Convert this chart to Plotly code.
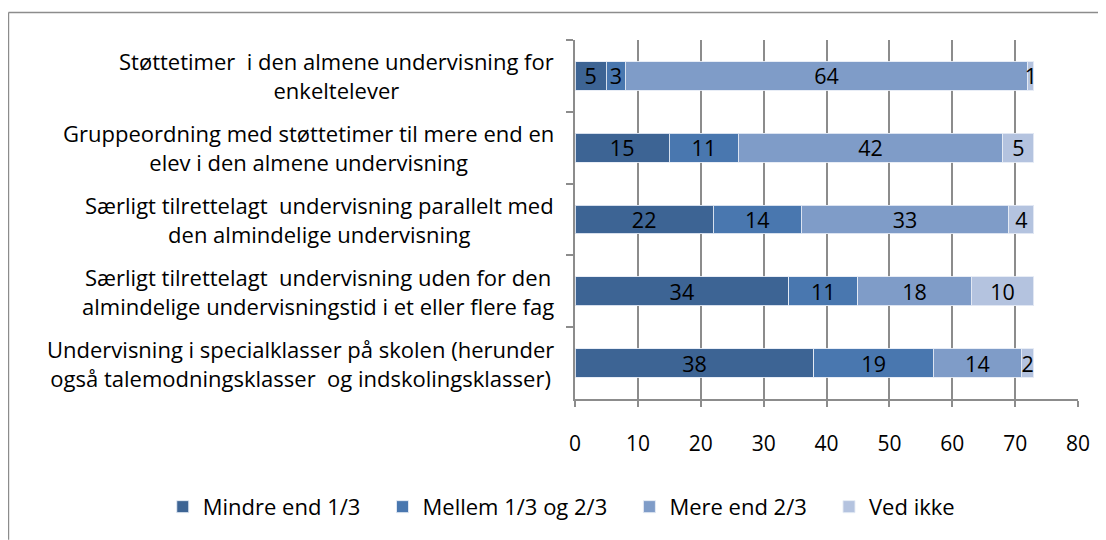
import plotly.graph_objects as go

categories = [
    "Støttetimer  i den almene undervisning for<br>enkeltelever",
    "Gruppeordning med støttetimer til mere end en<br>elev i den almene undervisning",
    "Særligt tilrettelagt  undervisning parallelt med<br>den almindelige undervisning",
    "Særligt tilrettelagt  undervisning uden for den<br>almindelige undervisningstid i et eller flere fag",
    "Undervisning i specialklasser på skolen (herunder<br>også talemodningsklasser  og indskolingsklasser)",
]
cat_ids = ["c1", "c2", "c3", "c4", "c5"]
series_names = ["Mindre end 1/3", "Mellem 1/3 og 2/3", "Mere end 2/3", "Ved ikke"]
mindre = [5, 15, 22, 34, 38]
mellem = [3, 11, 14, 11, 19]
mere = [64, 42, 33, 18, 14]
vedikke = [1, 5, 4, 10, 2]
x_ticks = [0, 10, 20, 30, 40, 50, 60, 70, 80]

colors = ["#3D6494", "#4977AF", "#7F9CC8", "#B4C3DF"]
values = [mindre, mellem, mere, vedikke]

FONT = "Open Sans"
PAD = "\u00a0" * 3

# page body has an 8px margin: figure coords = screen coords - 8
W, H = 1098, 532
L, T = 567, 31.5
R = W - 1069.7
B = H - 391
pw = W - L - R
ph = H - T - B


def px2x(px):
    return (px - L) / pw


def py2y(py):
    return (H - B - py) / ph


fig = go.Figure()
for name, vals, col in zip(series_names, values, colors):
    fig.add_trace(go.Bar(
        y=cat_ids, x=vals, name=name + PAD, orientation="h",
        marker=dict(color=col, line=dict(color="rgba(230,235,245,0.9)", width=1)),
        text=[str(v) for v in vals], textposition="inside", insidetextanchor="middle",
        textangle=0, constraintext="none",
        textfont=dict(color="black", size=21.5, family=FONT),
        hoverinfo="x+name",
    ))

for cid, lab in zip(cat_ids, categories):
    fig.add_annotation(x=0, y=cid, xref="x", yref="y", text=lab, showarrow=False,
                       xanchor="right", align="center", xshift=-19,
                       font=dict(size=22, family=FONT, color="black"))

gray = "#8C8C8C"
# outer chart border (left and top)
fig.add_shape(type="line", xref="paper", yref="paper", x0=px2x(0.8), x1=px2x(0.8),
              y0=py2y(H), y1=py2y(4), line=dict(color=gray, width=1.5))
fig.add_shape(type="line", xref="paper", yref="paper", x0=px2x(0.8), x1=px2x(W),
              y0=py2y(4), y1=py2y(4), line=dict(color=gray, width=1.5))

fig.update_layout(
    width=W, height=H,
    barmode="stack", bargap=0.6,
    margin=dict(l=L, r=R, t=T, b=B),
    plot_bgcolor="white", paper_bgcolor="white",
    font=dict(family=FONT, size=21, color="black"),
    showlegend=True,
    legend=dict(orientation="h", x=px2x(155), xanchor="left",
                y=py2y(499), yanchor="middle", traceorder="normal",
                font=dict(size=22, family=FONT), itemwidth=30,
                bgcolor="rgba(0,0,0,0)"),
    xaxis=dict(range=[0, 80], tickvals=x_ticks, showgrid=True, gridcolor=gray, gridwidth=1.5,
               zeroline=False, showline=True, linecolor=gray, linewidth=1.5,
               ticks="outside", ticklen=6, tickcolor=gray, tickwidth=1.5,
               ticklabelstandoff=19, tickfont=dict(size=21, family=FONT), fixedrange=True),
    yaxis=dict(categoryorder="array", categoryarray=cat_ids, autorange="reversed",
               showticklabels=False, showline=True, linecolor=gray, linewidth=1.5,
               ticks="outside", ticklen=7, tickcolor=gray, tickwidth=1.5,
               tickson="boundaries", showgrid=False, fixedrange=True),
)

fig.write_html("out.html")
